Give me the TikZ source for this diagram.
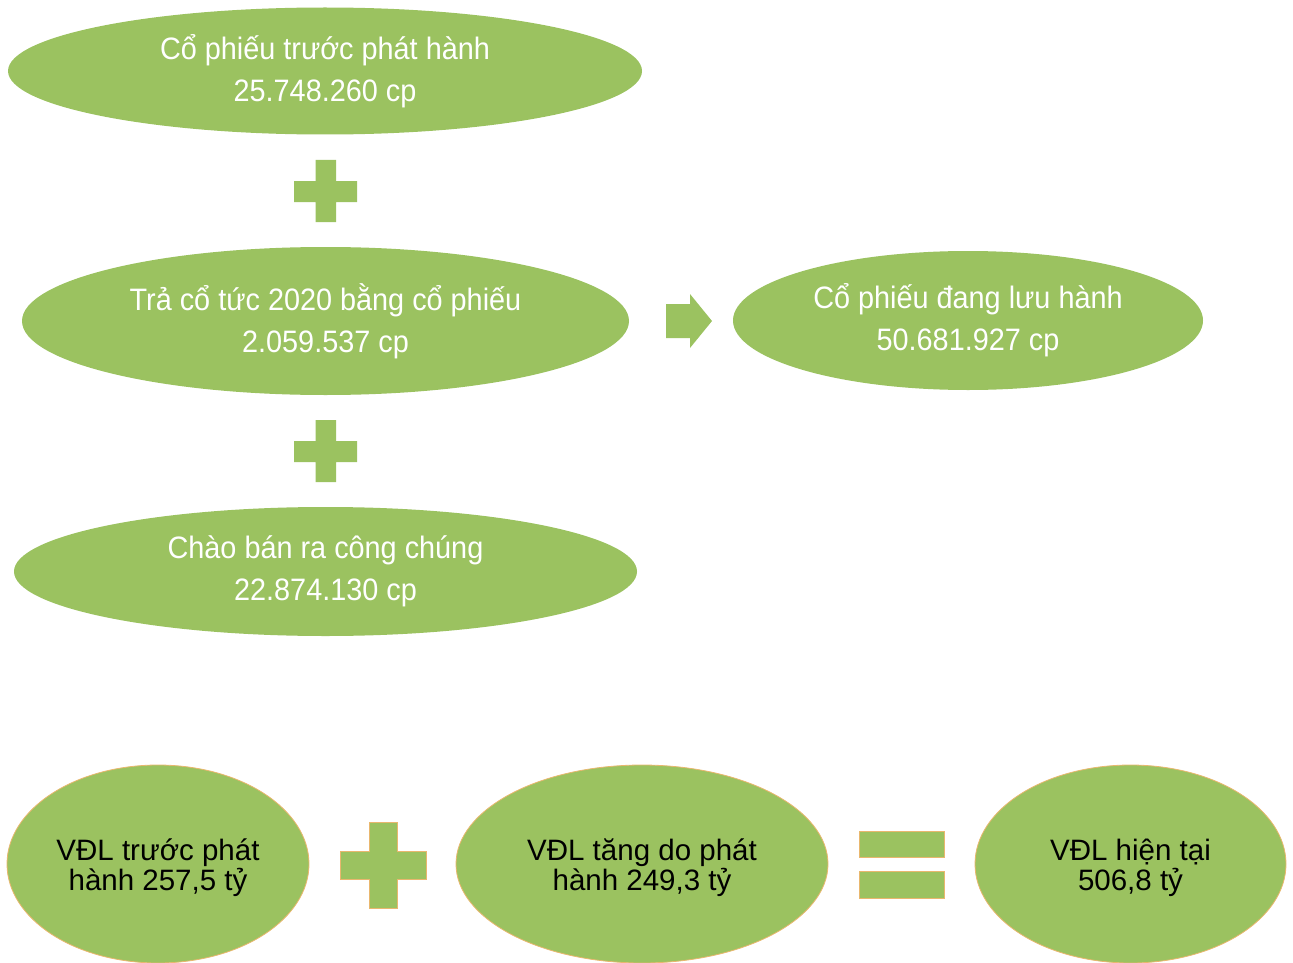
\documentclass[tikz,border=0pt]{standalone}
\usepackage{fontspec}
\setmainfont{Liberation Sans}
\newfontfamily\narrowsans[FakeStretch=0.93]{Liberation Sans}
\usetikzlibrary{shapes.geometric}
\definecolor{leaf}{RGB}{155,194,96}
\definecolor{rim}{RGB}{233,183,110}
\tikzset{
  topoval/.style={ellipse, fill=leaf, inner sep=0pt, text=white, align=center,
    font=\narrowsans\fontsize{31}{42}\selectfont},
  botoval/.style={ellipse, fill=leaf, draw=rim, line width=0.8pt, inner sep=0pt},
  bottext/.style={text=black, align=center, inner sep=0pt, yshift=-3.5pt,
    font=\fontsize{29.5}{30}\selectfont},
  sign/.style={fill=leaf},
  rimsign/.style={fill=leaf, draw=rim, line width=0.8pt}
}
\begin{document}
\begin{tikzpicture}[x=1pt,y=-1pt]
\useasboundingbox (0,0) rectangle (1293,963);
% top column
\node[topoval, minimum width=634pt, minimum height=127pt] (e1) at (325,71) {Cổ phiếu trước phát hành\\25.748.260 cp};
\node[topoval, minimum width=607pt, minimum height=148pt] (e2) at (325.5,321) {Trả cổ tức 2020 bằng cổ phiếu\\2.059.537 cp};
\node[topoval, minimum width=623pt, minimum height=129pt] (e3) at (325.5,571.5) {Chào bán ra công chúng\\22.874.130 cp};
\node[topoval, minimum width=470pt, minimum height=139pt] (e4) at (968,320.5) {Cổ phiếu đang lưu hành\\50.681.927 cp};
% plus signs
\fill[sign] (315.5,160) -- (336,160) -- (336,181) -- (357,181) -- (357,202) -- (336,202) -- (336,222) -- (315.5,222) -- (315.5,202) -- (294,202) -- (294,181) -- (315.5,181) -- cycle;
\fill[sign] (315.5,420) -- (336,420) -- (336,441) -- (357,441) -- (357,462) -- (336,462) -- (336,482) -- (315.5,482) -- (315.5,462) -- (294,462) -- (294,441) -- (315.5,441) -- cycle;
% arrow
\fill[sign] (666,304) -- (690,304) -- (690,294) -- (712,321) -- (690,348) -- (690,338) -- (666,338) -- cycle;
% bottom row
\node[botoval, minimum width=302pt, minimum height=198pt] (b1) at (158,864) {};
\node[bottext] (t1) at (b1.center) {VĐL trước phát\\hành 257,5 tỷ};
\node[botoval, minimum width=372pt, minimum height=198pt] (b2) at (642,864) {};
\node[bottext] (t2) at (b2.center) {VĐL tăng do phát\\hành 249,3 tỷ};
\node[botoval, minimum width=311pt, minimum height=198pt] (b3) at (1130.5,864) {};
\node[bottext] (t3) at (b3.center) {VĐL hiện tại\\506,8 tỷ};
\draw[rimsign] (369,822) -- (397,822) -- (397,851) -- (426,851) -- (426,879) -- (397,879) -- (397,908) -- (369,908) -- (369,879) -- (340,879) -- (340,851) -- (369,851) -- cycle;
\draw[rimsign] (859,831) rectangle (944,857);
\draw[rimsign] (859,871) rectangle (944,898);
\end{tikzpicture}
\end{document}
